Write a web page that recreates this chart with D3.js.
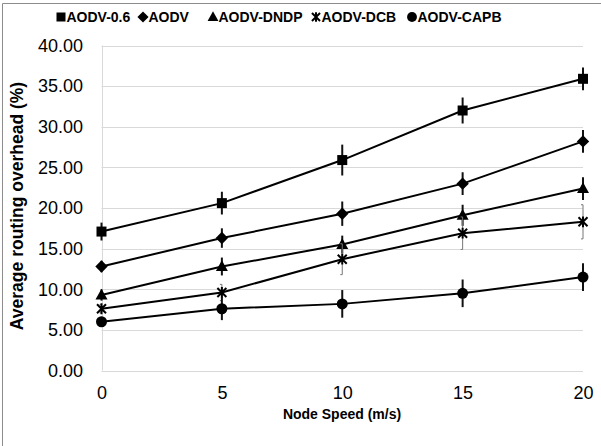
<!DOCTYPE html>
<html><head><meta charset="utf-8">
<script src="https://cdn.jsdelivr.net/npm/d3@7"></script>
<style>body{margin:0;background:#fff} svg{display:block;font-family:"Liberation Sans",Arial,sans-serif}</style>
</head><body><svg id="c" width="601" height="446"></svg>
<script>
const speeds=[0,5,10,15,20];
const seriesNames=["AODV-0.6","AODV","AODV-DNDP","AODV-DCB","AODV-CAPB"];
const aodv06=[17.1,20.6,25.9,32.0,35.9];
const aodv06Err=[1.1,1.4,1.9,1.6,1.4];
const aodv=[12.8,16.3,19.3,23.0,28.2];
const aodvErr=[0.7,1.2,1.5,1.4,1.4];
const dndp=[9.3,12.8,15.5,19.1,22.4];
const dndpErr=[0.7,1.1,1.1,1.3,1.4];
const dcb=[7.6,9.6,13.7,16.9,18.3];
const dcbErr=[0.5,1.0,1.9,2.0,2.1];
const capb=[6.0,7.6,8.2,9.5,11.5];
const capbErr=[0.6,1.4,1.7,1.7,1.7];
const yTicks=[0,5,10,15,20,25,30,35,40];
const xTitle="Node Speed (m/s)";
const yTitle="Average routing overhead (%)";

const series=[
 {name:seriesNames[0],vals:aodv06,err:aodv06Err,sym:"square"},
 {name:seriesNames[1],vals:aodv,err:aodvErr,sym:"diamond"},
 {name:seriesNames[2],vals:dndp,err:dndpErr,sym:"triangle"},
 {name:seriesNames[3],vals:dcb,err:dcbErr,sym:"star"},
 {name:seriesNames[4],vals:capb,err:capbErr,sym:"circle"}
];

const svg=d3.select("#c");
const x=d3.scaleLinear().domain([0,20]).range([101.5,583]);
const y=d3.scaleLinear().domain([0,40]).range([370.5,45.5]);

// outer frame (top + left visible)
svg.append("line").attr("x1",2.5).attr("x2",601).attr("y1",3.5).attr("y2",3.5).attr("stroke","#8c8c8c");
svg.append("line").attr("x1",2.5).attr("x2",2.5).attr("y1",3.5).attr("y2",446).attr("stroke","#8c8c8c");

// gridlines
svg.append("g").selectAll("line").data(yTicks).join("line")
 .attr("x1",x(0)).attr("x2",x(20))
 .attr("y1",d=>Math.round(y(d))+0.5).attr("y2",d=>Math.round(y(d))+0.5)
 .attr("stroke","#d9d9d9").attr("stroke-width",1);
// y axis line
svg.append("line").attr("x1",Math.round(x(0))+0.5).attr("x2",Math.round(x(0))+0.5)
 .attr("y1",y(40)).attr("y2",y(0)).attr("stroke","#d9d9d9");

// y tick labels
const yAxis=d3.axisLeft(y).tickValues(yTicks).tickFormat(d3.format(".2f")).tickSize(0).tickPadding(0);
const gy=svg.append("g").attr("transform","translate(83,0)").call(yAxis);
gy.select(".domain").remove();
gy.selectAll("text").attr("font-size",18).attr("fill","#000").attr("font-family","'Liberation Sans',Arial,sans-serif");

// x tick labels
const xAxis=d3.axisBottom(x).tickValues(speeds).tickSize(0).tickPadding(0);
const gx=svg.append("g").attr("transform","translate(0,386)").call(xAxis);
gx.select(".domain").remove();
gx.selectAll("text").attr("font-size",18).attr("fill","#000").attr("font-family","'Liberation Sans',Arial,sans-serif");

// axis titles
svg.append("text").attr("x",342).attr("y",419).attr("text-anchor","middle")
 .attr("font-size",14).attr("font-weight","bold").text(xTitle);
svg.append("text").attr("transform","translate(23,"+(y(20)-2)+") rotate(-90)").attr("text-anchor","middle")
 .attr("font-size",17.5).attr("font-weight","bold").text(yTitle);

function drawSym(g,type,cx,cy,s){
  if(type==="square"){
    g.append("rect").attr("x",cx-s/2).attr("y",cy-s/2).attr("width",s).attr("height",s).attr("fill","#000");
  } else if(type==="diamond"){
    const r=s*0.62;
    g.append("path").attr("d",`M${cx},${cy-r}L${cx+r},${cy}L${cx},${cy+r}L${cx-r},${cy}Z`).attr("fill","#000");
  } else if(type==="triangle"){
    const r=s*0.6;
    g.append("path").attr("d",`M${cx},${cy-r*1.05}L${cx+r},${cy+r*0.75}L${cx-r},${cy+r*0.75}Z`).attr("fill","#000");
  } else if(type==="star"){
    const r=s*0.45;
    g.append("path").attr("d",`M${cx-r},${cy-r}L${cx+r},${cy+r}M${cx+r},${cy-r}L${cx-r},${cy+r}M${cx},${cy-r*1.2}L${cx},${cy+r*1.2}`)
     .attr("stroke","#000").attr("stroke-width",2).attr("fill","none");
  } else {
    g.append("circle").attr("cx",cx).attr("cy",cy).attr("r",s*0.55).attr("fill","#000");
  }
}

const line=d3.line().x((d,i)=>x(speeds[i])).y(d=>y(d));
series.forEach((s,si)=>{
  const g=svg.append("g");
  // error bars
  s.vals.forEach((v,i)=>{
    const thin = s.sym==="star";
    g.append("line").attr("x1",x(speeds[i])).attr("x2",x(speeds[i]))
     .attr("y1",y(v+s.err[i])).attr("y2",y(v-s.err[i]))
     .attr("stroke",thin?"#777":"#111").attr("stroke-width",thin?1:2);
    if(thin){
      [v+s.err[i],v-s.err[i]].forEach(e=>{
        g.append("line").attr("x1",x(speeds[i])-2).attr("x2",x(speeds[i]))
         .attr("y1",y(e)).attr("y2",y(e)).attr("stroke","#777").attr("stroke-width",1);
      });
    }
  });
  g.append("path").attr("d",line(s.vals)).attr("fill","none").attr("stroke","#000").attr("stroke-width",2);
  s.vals.forEach((v,i)=>drawSym(g,s.sym,x(speeds[i]),y(v),10));
});

// legend
const legX=[61,143,213,316,412];
const lg=svg.append("g");
series.forEach((s,i)=>{
  drawSym(lg,s.sym,legX[i],17,9);
  lg.append("text").attr("x",legX[i]+5.5).attr("y",22).attr("font-size",14).attr("font-weight","bold").attr("fill","#000").text(s.name);
});
</script></body></html>
